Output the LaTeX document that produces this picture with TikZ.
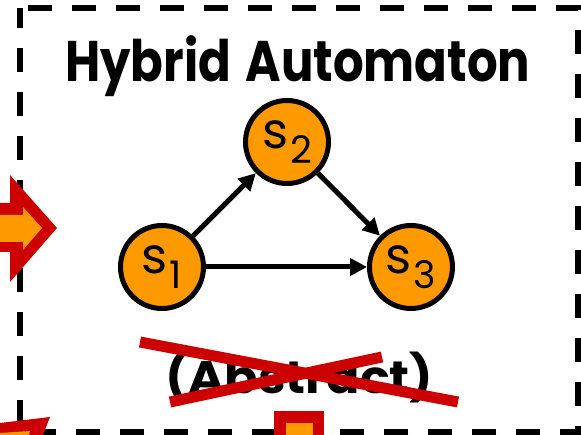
\documentclass[tikz,border=0pt]{standalone}
\usepackage{fontspec}
\setmainfont{Poppins}
\usetikzlibrary{arrows.meta}
\definecolor{orng}{HTML}{FF9900}
\definecolor{redx}{HTML}{CC0000}
\tikzset{
  state/.style={circle, draw=black, line width=5pt, fill=orng, minimum size=83pt, inner sep=0pt},
  trans/.style={line width=5pt, -{Triangle[length=17pt,width=17pt]}},
  frame/.style={line width=6pt, dash pattern=on 24pt off 20pt, dash phase=36pt},
  strike/.style={draw=redx, line width=11pt},
  bigtext/.style={anchor=north west, inner sep=0pt, font=\bfseries},
}
\newcommand{\stlabel}[1]{{\fontsize{50pt}{50pt}\selectfont s}\hspace{2pt}\raisebox{-15pt}{\fontsize{38pt}{38pt}\selectfont #1}}
\begin{document}
\begin{tikzpicture}[x=1pt,y=-1pt]
\useasboundingbox (0,0) rectangle (581,435);
\fill[white] (0,0) rectangle (581,435);
% dashed frame
\draw[frame] (20,8) -- (578,8) -- (578,432) -- (20,432) -- cycle;
% left incoming arrow (red border, orange fill)
\fill[redx] (0,203) -- (10,203) -- (10,175) -- (57,228) -- (10,282) -- (10,252) -- (0,252) -- cycle;
\fill[orng] (0,215) -- (23,215) -- (23,207) -- (42,228) -- (23,250) -- (23,242) -- (0,242) -- cycle;
% bottom-left partial shape
\fill[redx] (0,423) -- (50,417) -- (43,435) -- (0,435) -- cycle;
\fill[orng] (0,433) -- (30,431) -- (29,435) -- (0,435) -- cycle;
% bottom-centre partial shape
\fill[redx] (274,411) rectangle (324,435);
\fill[orng] (286,423) rectangle (313,435);
% title
\node[bigtext] (title) at (65,35) {\resizebox*{465pt}{61pt}{Hybrid\hspace{0.3em}Automaton}};
% states
\node[state] (s1) at (162,267) {\stlabel{1}};
\node[state] (s2) at (287,142) {\stlabel{2}};
\node[state] (s3) at (411,267) {\stlabel{3}};
% transitions
\draw[trans] (s1) -- (s2);
\draw[trans] (s2) -- (s3);
\draw[trans] (s1) -- (s3);
% crossed-out label
\node[bigtext] (abs) at (165,352) {\resizebox*{268pt}{51pt}{(Abstract)}};
\coordinate (xa1) at (140,342);
\coordinate (xa2) at (458,402);
\coordinate (xb1) at (170,402);
\coordinate (xb2) at (382,357);
\draw[strike] (xa1) -- (xa2);
\draw[strike] (xb1) -- (xb2);
\end{tikzpicture}
\end{document}
